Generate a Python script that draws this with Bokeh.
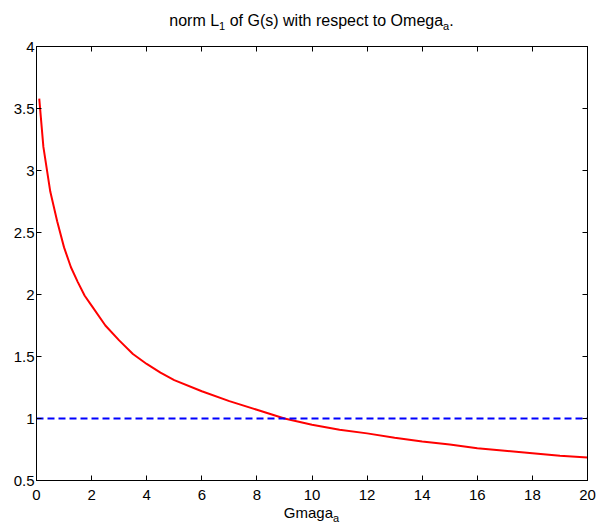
from bokeh.plotting import figure
from bokeh.models import Range1d, LinearAxis, FixedTicker, Div
from bokeh.layouts import column
from bokeh.embed import file_html
from bokeh.resources import INLINE

# ---- data ----
omega = [0.1, 0.25, 0.5, 0.75, 1.0, 1.25, 1.5, 1.75, 2.0, 2.5, 3.0, 3.5, 4.0, 4.5, 5.0,
         6.0, 7.0, 8.0, 9.0, 10.0, 11.0, 12.0, 13.0, 14.0, 15.0, 16.0, 17.0, 18.0, 19.0, 20.0]
norm_l1 = [3.58, 3.19, 2.83, 2.59, 2.38, 2.22, 2.10, 1.99, 1.91, 1.75, 1.63, 1.52, 1.44, 1.37, 1.31,
           1.22, 1.14, 1.07, 1.00, 0.95, 0.91, 0.88, 0.845, 0.815, 0.79, 0.76, 0.74, 0.72, 0.70, 0.685]
ref_x = [0, 20]
ref_y = [1, 1]
x_ticks = [0, 2, 4, 6, 8, 10, 12, 14, 16, 18, 20]
y_ticks = [0.5, 1, 1.5, 2, 2.5, 3, 3.5, 4]
y_tick_labels = ["0.5", "1", "1.5", "2", "2.5", "3", "3.5", "4"]

FONT = "Liberation Sans"

p = figure(width=596, height=476, output_backend="svg", toolbar_location=None,
           x_range=Range1d(0, 20), y_range=Range1d(0.5, 4),
           min_border_left=36, min_border_right=9, min_border_top=16, min_border_bottom=26,
           x_axis_location=None, y_axis_location=None)
p.title.visible = False
p.xgrid.visible = False
p.ygrid.visible = False
p.outline_line_color = "black"
p.outline_line_width = 1
p.background_fill_color = "white"
p.border_fill_color = "white"

def style(ax, labels=True):
    ax.axis_line_color = "black"
    ax.axis_line_width = 1
    ax.major_tick_in = 5
    ax.major_tick_out = 0
    ax.minor_tick_in = 0
    ax.minor_tick_out = 0
    ax.major_tick_line_color = "black"
    ax.major_label_text_font = FONT
    ax.major_label_text_font_size = "15px"
    ax.major_label_text_color = "black"
    if not labels:
        ax.major_label_text_font_size = "0px"
        ax.major_label_text_alpha = 0

xb = LinearAxis(ticker=FixedTicker(ticks=x_ticks))
style(xb)
xb.major_label_standoff = 9
p.add_layout(xb, "below")

xt = LinearAxis(ticker=FixedTicker(ticks=x_ticks))
style(xt, labels=False)
xt.major_label_standoff = 0
p.add_layout(xt, "above")

yl = LinearAxis(ticker=FixedTicker(ticks=y_ticks))
style(yl)
yl.major_label_overrides = {t: s for t, s in zip(y_ticks, y_tick_labels)}
yl.major_label_standoff = 2
p.add_layout(yl, "left")

yr = LinearAxis(ticker=FixedTicker(ticks=y_ticks))
style(yr, labels=False)
yr.major_label_standoff = 0
p.add_layout(yr, "right")

p.line(omega, norm_l1, line_color="#FF0000", line_width=2)
p.line(ref_x, ref_y, line_color="#0000FF", line_width=2, line_dash="7 4")

title_html = (
    "<div style=\"display:block;width:551px;font-family:'Liberation Sans',Arial,sans-serif;"
    "font-size:16px;line-height:16px;padding-top:13px;text-align:center;white-space:nowrap;color:black\">"
    "norm L<sub style=\"font-size:11px;line-height:0\">1</sub> of G(s) with respect to "
    "Omega<sub style=\"font-size:11px;line-height:0\">a</sub>.</div>"
)
xlabel_html = (
    "<div style=\"display:block;width:551px;font-family:'Liberation Sans',Arial,sans-serif;"
    "font-size:15px;line-height:9px;padding-top:0px;text-align:center;white-space:nowrap;color:black\">"
    "Gmaga<sub style=\"font-size:11px;line-height:0\">a</sub></div>"
)
title_div = Div(text=title_html, width=551, height=30, margin=(0, 0, 0, 36),
                styles={"text-align": "center", "width": "551px"})
xlabel_div = Div(text=xlabel_html, width=551, height=21, margin=(0, 0, 0, 36),
                 styles={"text-align": "center", "width": "551px"})

layout = column(title_div, p, xlabel_div, spacing=0)

open("out.html", "w").write(file_html(layout, INLINE))
